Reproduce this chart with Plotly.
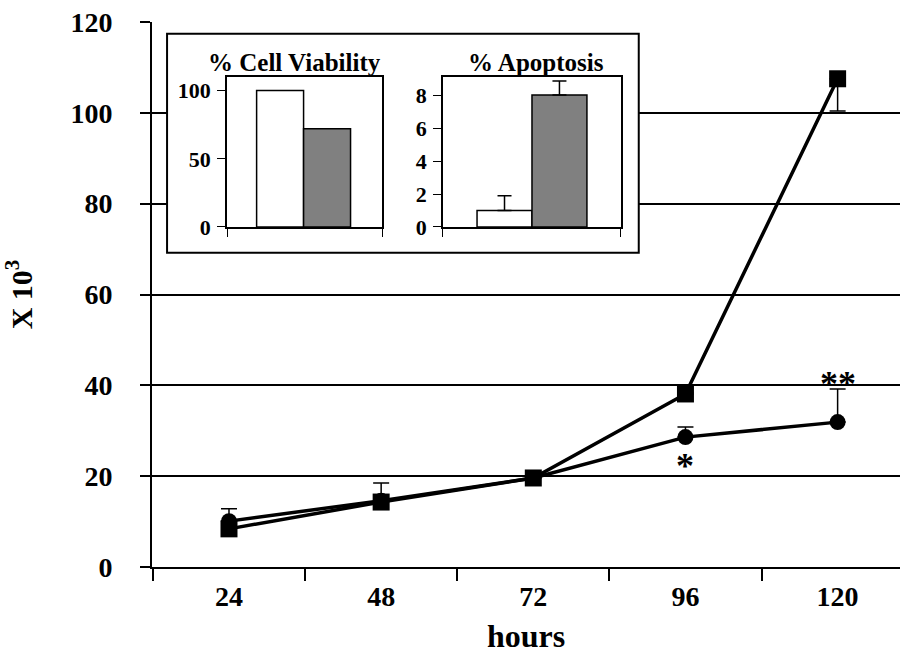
import plotly.graph_objects as go

# ---------------- data ----------------
hours = ["24", "48", "72", "96", "120"]
circle_vals = [10.1, 14.6, 19.6, 28.6, 31.9]
circle_err_up = [2.7, 3.9, 1.4, 2.2, 7.3]
square_vals = [8.4, 14.3, 19.6, 38.1, 107.5]
square_err_up = [0.3, 0.4, 1.0, 0.3, 0.0]
square_err_down = [0.0, 0.0, 0.0, 0.0, 7.1]
y_ticks = [0, 20, 40, 60, 80, 100, 120]

star_labels = ["*", "**"]
star_hours = ["96", "120"]
star_y = [23.8, 41.9]

groups = [0, 1]
bar_colors = ["white", "#808080"]
viability_vals = [100, 72]
viability_ticks = [0, 50, 100]
apoptosis_vals = [1.0, 8.0]
apoptosis_err = [0.9, 0.85]
apoptosis_ticks = [0, 2, 4, 6, 8]

FONT = "Liberation Serif"

fig = go.Figure()

# main lines
fig.add_trace(go.Scatter(
    x=hours, y=circle_vals, mode="lines+markers",
    line=dict(color="black", width=3.5),
    marker=dict(symbol="circle", size=16, color="black"),
    error_y=dict(type="data", symmetric=False, array=circle_err_up,
                 arrayminus=[0] * len(hours), color="black", thickness=1.5, width=8),
    showlegend=False, xaxis="x", yaxis="y"))
fig.add_trace(go.Scatter(
    x=hours, y=square_vals, mode="lines+markers",
    line=dict(color="black", width=3.5),
    marker=dict(symbol="square", size=17, color="black"),
    error_y=dict(type="data", symmetric=False, array=square_err_up,
                 arrayminus=square_err_down, color="black", thickness=1.5, width=8),
    showlegend=False, xaxis="x", yaxis="y"))

# inset bars
fig.add_trace(go.Bar(
    x=groups, y=viability_vals, width=1,
    marker=dict(color=bar_colors, line=dict(color="black", width=1.5)),
    showlegend=False, xaxis="x2", yaxis="y2"))
fig.add_trace(go.Bar(
    x=groups, y=apoptosis_vals, width=1,
    marker=dict(color=bar_colors, line=dict(color="black", width=1.5)),
    error_y=dict(type="data", symmetric=False, array=apoptosis_err,
                 arrayminus=[0, 0], color="black", thickness=1.5, width=7),
    showlegend=False, xaxis="x3", yaxis="y3"))

# annotations: significance stars (category axis -> use category index)
annotations = []
for lab, hx, hy in zip(star_labels, star_hours, star_y):
    annotations.append(dict(x=hours.index(hx), y=hy, xref="x", yref="y", text=lab, showarrow=False,
                            font=dict(family=FONT, size=36, color="black"),
                            xanchor="center", yanchor="middle", yshift=-7))

# inset titles
annotations.append(dict(x=0.191, y=0.925, xref="paper", yref="paper", text="<b>% Cell Viability</b>",
                        showarrow=False, font=dict(family=FONT, size=25, color="black"),
                        xanchor="center", yanchor="middle"))
annotations.append(dict(x=0.513, y=0.925, xref="paper", yref="paper", text="<b>% Apoptosis</b>",
                        showarrow=False, font=dict(family=FONT, size=25, color="black"),
                        xanchor="center", yanchor="middle"))

inset_xr = [-1.13, 2.17]
inset_xr3 = [-1.12, 2.12]

fig.update_layout(
    width=900, height=659,
    margin=dict(l=152, r=0, t=22, b=92),
    paper_bgcolor="white", plot_bgcolor="white",
    font=dict(family=FONT, color="black", size=26, weight="bold"),
    xaxis=dict(type="category", categoryorder="array", categoryarray=hours,
               range=[-0.506, 4.41], tickson="boundaries", automargin=False,
               ticks="outside", ticklen=12, tickwidth=1.5, tickcolor="black",
               showline=True, linecolor="black", linewidth=2, showgrid=False,
               tickfont=dict(family=FONT, size=28, weight="bold"),
               ticklabelstandoff=3,
               title=dict(text="hours", font=dict(family=FONT, size=32, weight="bold"), standoff=14)),
    yaxis=dict(range=[0, 120], tickvals=y_ticks, automargin=False,
               ticks="outside", ticklen=10, tickwidth=1.5, tickcolor="black",
               showline=True, linecolor="black", linewidth=2,
               showgrid=True, gridcolor="black", gridwidth=1.5, zeroline=False,
               tickfont=dict(family=FONT, size=28, weight="bold"),
               ticklabelstandoff=22,
               title=dict(text="X 10<sup>3</sup>", font=dict(family=FONT, size=30, weight="bold"), standoff=30)),
    xaxis2=dict(domain=[0.1003, 0.3075], anchor="y2", range=inset_xr, automargin=False,
                tickvals=inset_xr, showticklabels=False, ticks="outside", ticklen=8,
                tickcolor="black", showline=True, linecolor="black", linewidth=1.5,
                mirror=True, showgrid=False, zeroline=False),
    yaxis2=dict(domain=[0.6239, 0.8991], anchor="x2", range=[0, 110], automargin=False,
                tickvals=viability_ticks, ticks="outside", ticklen=8, tickcolor="black",
                showline=True, linecolor="black", linewidth=1.5, mirror=True,
                showgrid=False, zeroline=False,
                tickfont=dict(family=FONT, size=22, weight="bold"), ticklabelstandoff=2),
    xaxis3=dict(domain=[0.389, 0.627], anchor="y3", range=inset_xr3, automargin=False,
                tickvals=inset_xr3, showticklabels=False, ticks="outside", ticklen=8,
                tickcolor="black", showline=True, linecolor="black", linewidth=1.5,
                mirror=True, showgrid=False, zeroline=False),
    yaxis3=dict(domain=[0.6239, 0.8991], anchor="x3", range=[0, 9.1], automargin=False,
                tickvals=apoptosis_ticks, ticks="outside", ticklen=8, tickcolor="black",
                showline=True, linecolor="black", linewidth=1.5, mirror=True,
                showgrid=False, zeroline=False,
                tickfont=dict(family=FONT, size=22, weight="bold"), ticklabelstandoff=2),
    annotations=annotations,
    shapes=[dict(type="rect", xref="x", yref="y", x0=-0.407, x1=2.693, y0=69.2, y1=117.4,
                 layer="between", fillcolor="white", line=dict(color="black", width=2))],
)

fig.write_html("out.html", config={"displayModeBar": False},
               post_script="document.body.style.margin='0';")
